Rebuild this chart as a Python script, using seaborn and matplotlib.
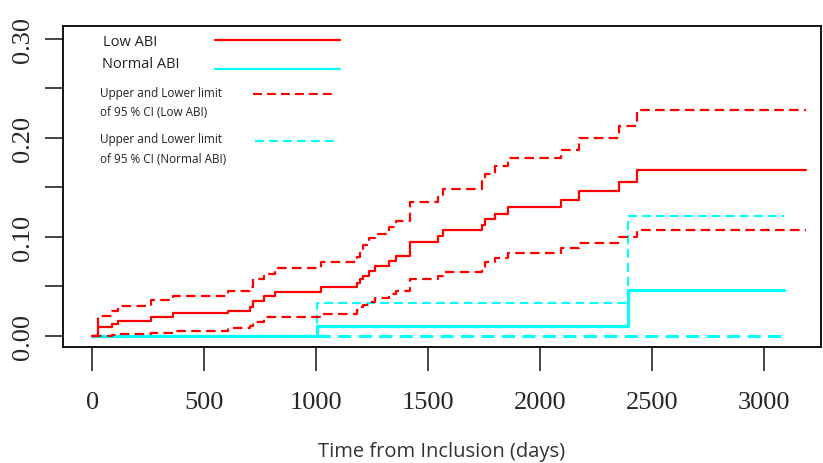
import matplotlib
matplotlib.use('Agg')
import matplotlib.pyplot as plt
import seaborn as sns

# ── Дані ─────────────────────────────────────────────────────────────────────
# Low ABI: кумулятивна частка подій та межі 95 % ДІ
low_t     = [0, 25, 88, 117, 263, 360, 605, 705, 720, 765, 817, 1020, 1182, 1196,
             1211, 1238, 1263, 1327, 1355, 1420, 1546, 1565, 1739, 1754, 1799,
             1858, 2092, 2175, 2354, 2434, 3187]
low_est   = [0, 0.009, 0.012, 0.0155, 0.019, 0.023, 0.0256, 0.029, 0.0357, 0.040,
             0.044, 0.049, 0.054, 0.058, 0.061, 0.066, 0.071, 0.076, 0.081, 0.095,
             0.101, 0.107, 0.112, 0.118, 0.123, 0.1306, 0.137, 0.146, 0.155, 0.168,
             0.168]
low_upper = [0, 0.0205, 0.025, 0.0306, 0.036, 0.040, 0.045, 0.049, 0.0576, 0.063,
             0.0687, 0.0744, 0.080, 0.0845, 0.092, 0.0987, 0.103, 0.110, 0.1165,
             0.1357, 0.141, 0.1485, 0.157, 0.164, 0.172, 0.1795, 0.188, 0.1997,
             0.212, 0.2286, 0.2286]
low_lower = [0, 0.0005, 0.001, 0.002, 0.003, 0.0054, 0.008, 0.010, 0.0138, 0.019,
             0.019, 0.022, 0.026, 0.029, 0.031, 0.034, 0.038, 0.0424, 0.045,
             0.0576, 0.061, 0.065, 0.0694, 0.0744, 0.0785, 0.0835, 0.089, 0.094,
             0.0997, 0.107, 0.107]

# Normal ABI
norm_t     = [0, 1005, 2394, 3089]
norm_est   = [0, 0.0104, 0.0468, 0.0468]
norm_upper = [0, 0.033, 0.1215, 0.1215]
norm_lower = [0, 0, 0, 0]

x_ticks = [0, 500, 1000, 1500, 2000, 2500, 3000]
y_ticks = [0, 0.05, 0.10, 0.15, 0.20, 0.25, 0.30]
y_tick_labels = ['0.00', '', '0.10', '', '0.20', '', '0.30']

RED, CYAN = '#FF0000', '#00FFFF'
DASH = (0, (4.3, 2.4))

sns.set_style('white')
plt.rcParams['font.family'] = ['Open Sans', 'DejaVu Sans']

fig = plt.figure(figsize=(8.23, 4.64), dpi=100)
ax = fig.add_axes([0.0766, 0.25, 0.921, 0.692])

common = dict(ax=ax, drawstyle='steps-post', estimator=None, sort=False)
sns.lineplot(x=norm_t, y=norm_lower, color=CYAN, lw=2.2, linestyle=DASH, **common)
sns.lineplot(x=norm_t, y=norm_upper, color=CYAN, lw=1.5, linestyle=DASH, **common)
sns.lineplot(x=norm_t, y=norm_est, color=CYAN, lw=2.3, **common)
sns.lineplot(x=low_t, y=low_upper, color=RED, lw=1.6, linestyle=DASH, **common)
sns.lineplot(x=low_t, y=low_lower, color=RED, lw=1.6, linestyle=DASH, **common)
sns.lineplot(x=low_t, y=low_est, color=RED, lw=1.6, **common)

ax.set_xlim(-130, 3254)
ax.set_ylim(-0.0111, 0.3131)
ax.set_xticks(x_ticks)
ax.set_xticklabels([str(v) for v in x_ticks], family='Liberation Serif', fontsize=19)
ax.set_yticks(y_ticks)
ax.set_yticklabels(y_tick_labels, family='Liberation Serif', fontsize=19,
                   rotation=90, va='center')
ax.tick_params(axis='x', direction='out', length=17, width=1.2, pad=15,
               bottom=True)
ax.tick_params(axis='y', direction='out', length=13, width=1.2, pad=8, left=True)
for sp in ax.spines.values():
    sp.set_color('black')
    sp.set_linewidth(1.3)
ax.set_xlabel('Time from Inclusion (days)', fontsize=14.5, color='#333333',
              labelpad=20)
ax.set_ylabel('')

# ── Легенда (вручну, як в оригіналі) ─────────────────────────────────────────
tr = ax.transAxes
ax.text(0.053, 0.953, 'Low ABI', transform=tr, fontsize=10.5, va='center',
        color='#222222')
ax.text(0.051, 0.882, 'Normal ABI', transform=tr, fontsize=10.5, va='center',
        color='#222222')
ax.text(0.049, 0.794, 'Upper and Lower limit', transform=tr, fontsize=8.5,
        va='center', color='#222222')
ax.text(0.049, 0.732, 'of 95 % CI (Low ABI)', transform=tr, fontsize=8.5,
        va='center', color='#222222')
ax.text(0.049, 0.648, 'Upper and Lower limit', transform=tr, fontsize=8.5,
        va='center', color='#222222')
ax.text(0.049, 0.586, 'of 95 % CI (Normal ABI)', transform=tr, fontsize=8.5,
        va='center', color='#222222')
ax.plot([0.2005, 0.365], [0.956, 0.956], transform=tr, color=RED, lw=1.6)
ax.plot([0.2005, 0.366], [0.866, 0.866], transform=tr, color=CYAN, lw=1.6)
ax.plot([0.251, 0.360], [0.788, 0.788], transform=tr, color=RED, lw=1.5,
        linestyle=DASH)
ax.plot([0.253, 0.363], [0.642, 0.642], transform=tr, color=CYAN, lw=1.5,
        linestyle=DASH)

fig.savefig('out.png', dpi=100)
